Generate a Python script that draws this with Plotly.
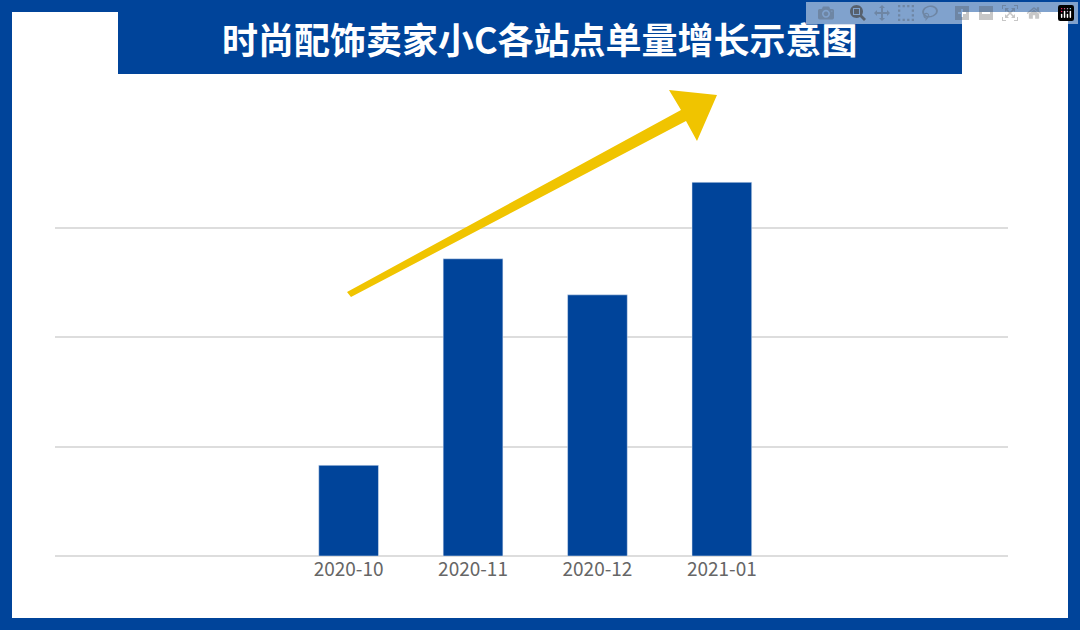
import plotly.graph_objects as go

months = ["2020-10", "2020-11", "2020-12", "2021-01"]
orders = [0.83, 2.72, 2.39, 3.42]

BLUE = "#00449a"
YELLOW = "#f0c400"
W, H = 1080, 630
L, R, T, B = 55, 1008, 120, 556


def px(x, y):
    # pixel -> paper coords
    return (x - L) / (R - L), (B - y) / (B - T)


def rect(x0, y0, x1, y1, color):
    a, b = px(x0, y1)
    c, d = px(x1, y0)
    return dict(type="rect", xref="paper", yref="paper", x0=a, y0=b, x1=c, y1=d,
                fillcolor=color, line_width=0, layer="below")


fig = go.Figure()
fig.add_trace(go.Bar(x=months, y=orders, marker_color=BLUE, width=0.48))

# frame and title box
shapes = [
    rect(0, 0, W, 12, BLUE), rect(0, H - 12, W, H, BLUE),
    rect(0, 0, 12, H, BLUE), rect(W - 12, 0, W, H, BLUE),
    rect(118, 0, 962, 74, BLUE),
]

# yellow arrow
pts = [(347, 292), (681, 110), (669, 90), (717, 95), (697, 141), (686, 121), (351, 297)]
path = "M " + " L ".join("%f,%f" % px(x, y) for x, y in pts) + " Z"
shapes.append(dict(type="path", xref="paper", yref="paper", path=path,
                   fillcolor=YELLOW, line_width=0))

tx, ty = px(540, 38)
fig.update_layout(
    width=W, height=H,
    margin=dict(l=L, r=W - R, t=T, b=H - B),
    paper_bgcolor="white", plot_bgcolor="white",
    shapes=shapes,
    showlegend=False,
    font=dict(family="Noto Sans CJK SC"),
    xaxis=dict(type="category", range=[-2.36, 5.30], tickfont=dict(size=19, color="#666666"),
               showgrid=False, zeroline=False, showline=False, ticks=""),
    yaxis=dict(range=[0, 3.99], dtick=1, showticklabels=False, gridcolor="#dddddd",
               gridwidth=2, zeroline=True, zerolinecolor="#dddddd", zerolinewidth=2),
    annotations=[dict(text="<b>时尚配饰卖家小C各站点单量增长示意图</b>", xref="paper", yref="paper",
                      x=tx, y=ty, xanchor="center", yanchor="middle", showarrow=False,
                      font=dict(size=36, color="white", family="Noto Sans CJK SC"))],
)

fig.write_html("out.html", post_script="document.body.style.margin='0';")
